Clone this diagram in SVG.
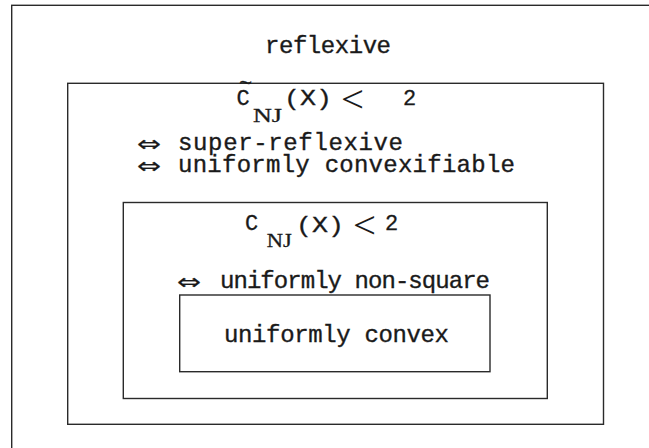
<svg xmlns="http://www.w3.org/2000/svg" width="649" height="448" viewBox="0 0 649 448">
<style>
.box{fill:none;stroke:#2a2a2a;stroke-width:1.4}
.t{font-family:"Liberation Mono",monospace;font-size:24px;fill:#1a1a1a;stroke:#1a1a1a;stroke-width:0.35}
.f{font-family:"Liberation Mono",monospace;font-size:22px;fill:#1a1a1a;stroke:#1a1a1a;stroke-width:0.3}
.s{font-family:"Liberation Serif",serif;font-size:19px;fill:#1a1a1a;stroke:#1a1a1a;stroke-width:0.3}
.lt{font-family:"Liberation Serif",serif;font-size:38px;fill:#1a1a1a}
.ar{font-family:"DejaVu Sans",sans-serif;font-size:21px;fill:#1a1a1a;stroke:#1a1a1a;stroke-width:0.3}
</style>
<rect width="649" height="448" fill="#fff"/>
<g id="reflexive">
<rect class="box" x="11.7" y="5.3" width="700" height="500"/>
<text class="t" x="265" y="52.7" textLength="126" lengthAdjust="spacing">reflexive</text>
</g>
<g id="super-reflexive">
<rect class="box" x="67.7" y="83.3" width="535.8" height="341"/>
<text class="f" x="245.5" y="90" font-size="16" text-anchor="middle">~</text>
<text class="f" x="236.5" y="105">C</text>
<text class="s" x="253" y="121.7" textLength="29" lengthAdjust="spacingAndGlyphs">NJ</text>
<text class="f" x="284" y="104.5" font-size="25" textLength="48" lengthAdjust="spacingAndGlyphs">(X)</text>
<text class="lt" x="341" y="112" textLength="23" lengthAdjust="spacingAndGlyphs">&lt;</text>
<text class="f" x="403" y="105">2</text>
<text class="ar" x="137" y="151" textLength="24" lengthAdjust="spacingAndGlyphs">⇔</text>
<text class="t" x="178" y="150" textLength="225" lengthAdjust="spacing">super-reflexive</text>
<text class="ar" x="137" y="173.3" textLength="24" lengthAdjust="spacingAndGlyphs">⇔</text>
<text class="t" x="178" y="171.7" textLength="337" lengthAdjust="spacing">uniformly convexifiable</text>
</g>
<g id="uniformly-non-square">
<rect class="box" x="123.3" y="202.5" width="424" height="196"/>
<text class="f" x="245" y="230">C</text>
<text class="s" x="266.7" y="246.7" textLength="25" lengthAdjust="spacingAndGlyphs">NJ</text>
<text class="f" x="296" y="231.5" font-size="25" textLength="48" lengthAdjust="spacingAndGlyphs">(X)</text>
<text class="lt" x="353" y="238" textLength="23" lengthAdjust="spacingAndGlyphs">&lt;</text>
<text class="f" x="385" y="230">2</text>
<text class="ar" x="177" y="289.3" textLength="24" lengthAdjust="spacingAndGlyphs">⇔</text>
<text class="t" x="220" y="288.3" textLength="270" lengthAdjust="spacing">uniformly non-square</text>
</g>
<g id="uniformly-convex">
<rect class="box" x="179.7" y="295" width="310.3" height="76.7"/>
<text class="t" x="224" y="341.7" textLength="225" lengthAdjust="spacing">uniformly convex</text>
</g>
<g id="connectors"></g>
</svg>
